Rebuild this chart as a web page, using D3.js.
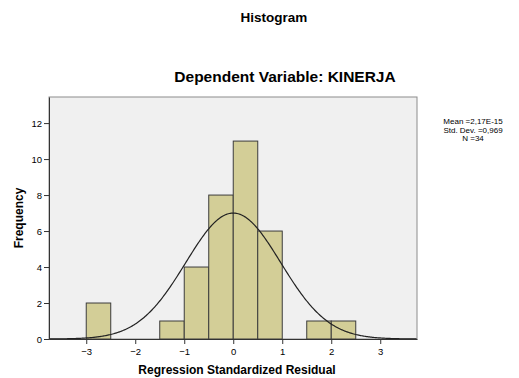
<!DOCTYPE html>
<html>
<head>
<meta charset="utf-8">
<script src="https://cdn.jsdelivr.net/npm/d3@7"></script>
<style>
  body { margin: 0; background: #fff; }
  text { font-family: "Liberation Sans", Arial, sans-serif; fill: #000; }
</style>
</head>
<body>
<div id="chart"></div>
<script>
// Histogram bins (lower edge, upper edge) and counts
var binStarts = [-3, -1.5, -1, -0.5, 0, 0.5, 1.5, 2];
var binEnds = [-2.5, -1, -0.5, 0, 0.5, 1, 2, 2.5];
var counts = [2, 1, 4, 8, 11, 6, 1, 1];

var xTicks = [-3, -2, -1, 0, 1, 2, 3];
var yTicks = [0, 2, 4, 6, 8, 10, 12];

// Summary stats shown on the right
var statLines = ["Mean =2,17E-15", "Std. Dev. =0,969", "N =34"];
var mean = 0, sd = 0.969, n = 34, binWidth = 0.5;

var svgWidth = 519;
var svgHeight = 378;

var margin = { top: 97, right: 102, bottom: 39, left: 49 };
var chartWidth = svgWidth - margin.left - margin.right;
var chartHeight = svgHeight - margin.top - margin.bottom;

var svg = d3.select("#chart")
  .append("svg")
  .attr("width", svgWidth)
  .attr("height", svgHeight);

var g = svg.append("g")
  .attr("transform", `translate(${margin.left}, ${margin.top})`);

var x = d3.scaleLinear().domain([-3.76, 3.75]).range([0, chartWidth]);
var y = d3.scaleLinear().domain([0, 13.45]).range([chartHeight, 0]);

// plot background
g.append("rect")
  .attr("width", chartWidth)
  .attr("height", chartHeight)
  .attr("fill", "#f0f0f0")
  .attr("stroke", "#8c8c8c")
  .attr("stroke-width", 1);

// bars
g.selectAll(".bar")
  .data(counts)
  .enter()
  .append("rect")
  .attr("class", "bar")
  .attr("x", (d, i) => x(binStarts[i]))
  .attr("width", (d, i) => x(binEnds[i]) - x(binStarts[i]))
  .attr("y", d => y(d))
  .attr("height", d => chartHeight - y(d))
  .attr("fill", "#d3ce97")
  .attr("stroke", "#3c3c3c")
  .attr("stroke-width", 1);

// fitted normal curve
var curvePts = d3.range(-3.76, 3.7501, 0.02).map(v => {
  var pdf = Math.exp(-0.5 * Math.pow((v - mean) / sd, 2)) / (sd * Math.sqrt(2 * Math.PI));
  return [v, n * binWidth * pdf];
});

g.append("path")
  .datum(curvePts)
  .attr("fill", "none")
  .attr("stroke", "#222")
  .attr("stroke-width", 1.2)
  .attr("d", d3.line().x(d => x(d[0])).y(d => y(d[1])));

// axes
var xAxis = g.append("g")
  .attr("transform", `translate(0, ${chartHeight})`)
  .call(d3.axisBottom(x).tickValues(xTicks).tickSize(5).tickSizeOuter(0));

var yAxis = g.append("g")
  .call(d3.axisLeft(y).tickValues(yTicks).tickSize(5).tickSizeOuter(0));

[xAxis, yAxis].forEach(a => {
  a.select(".domain").attr("stroke", "#333");
  a.selectAll(".tick line").attr("stroke", "#333");
  a.selectAll(".tick text")
    .attr("font-family", "Liberation Sans, Arial, sans-serif")
    .attr("font-size", "9.5px")
    .attr("fill", "#000");
});
xAxis.selectAll(".tick text").attr("dy", "0.85em");
yAxis.selectAll(".tick text").attr("dx", "0.1em");

// titles
svg.append("text")
  .attr("x", 274)
  .attr("y", 22)
  .attr("text-anchor", "middle")
  .attr("font-size", "13.5px")
  .attr("font-weight", "bold")
  .text("Histogram");

svg.append("text")
  .attr("x", 285)
  .attr("y", 82)
  .attr("text-anchor", "middle")
  .attr("font-size", "15.5px")
  .attr("font-weight", "bold")
  .text("Dependent Variable: KINERJA");

svg.append("text")
  .attr("x", 237)
  .attr("y", 374)
  .attr("text-anchor", "middle")
  .attr("font-size", "12px")
  .attr("font-weight", "bold")
  .text("Regression Standardized Residual");

svg.append("text")
  .attr("transform", "translate(23, 218) rotate(-90)")
  .attr("text-anchor", "middle")
  .attr("font-size", "12px")
  .attr("font-weight", "bold")
  .text("Frequency");

// stats box text
svg.append("g")
  .selectAll("text")
  .data(statLines)
  .enter()
  .append("text")
  .attr("x", 473)
  .attr("y", (d, i) => 124 + i * 8.5)
  .attr("text-anchor", "middle")
  .attr("font-size", "8px")
  .text(d => d);
</script>
</body>
</html>
